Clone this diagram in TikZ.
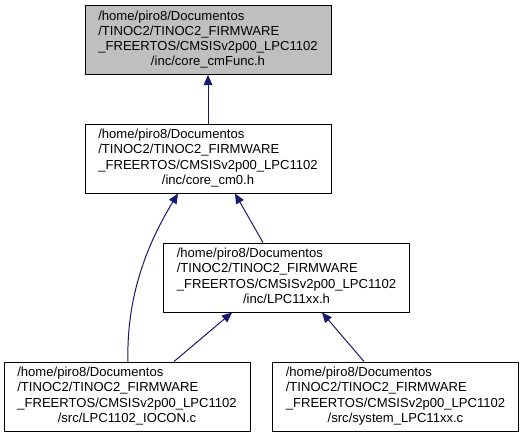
\documentclass[tikz,border=0pt]{standalone}
\usepackage{fontspec}
\setmainfont{Liberation Sans}
\usetikzlibrary{arrows.meta,calc}
\newcommand{\fpath}[2]{\begin{tabular}{@{}l@{}}/home/piro8/Documentos\\/TINOC2/TINOC2\_FIRMWARE\\\_FREERTOS/CMSISv2p00\_LPC1102\\\multicolumn{1}{@{}c@{}}{#1/#2}\end{tabular}}
\begin{document}
\begin{tikzpicture}[x=0.75pt,y=-0.75pt,
  filebox/.style={draw=black,line width=0.75pt,fill=white,inner sep=0pt,
    minimum width=184.5pt,minimum height=51.75pt,
    font=\fontsize{9.8}{11.3}\selectfont},
  edge/.style={draw={rgb,255:red,25;green,25;blue,112},line width=0.75pt,
    -{Triangle[length=7.5pt,width=6.5pt]}}]
\useasboundingbox[fill=white] (0,0) rectangle (525,437);
\node[filebox,fill={rgb,255:red,191;green,191;blue,191}] (top) at (208,40) {\fpath{/inc}{core\_cmFunc.h}};
\node[filebox] (mid) at (208,158.5) {\fpath{/inc}{core\_cm0.h}};
\node[filebox] (lpc) at (286.5,277.5) {\fpath{/inc}{LPC11xx.h}};
\node[filebox] (iocon) at (127,396.5) {\fpath{/src}{LPC1102\_IOCON.c}};
\node[filebox] (sys) at (395.5,396.5) {\fpath{/src}{system\_LPC11xx.c}};
\draw[edge] (mid.north) -- (top.south);
\draw[edge] ($(lpc.north)+(-23.5,0)$) -- ($(mid.south)+(27,0)$);
\draw[edge] ($(iocon.north)+(47,0)$) -- ($(lpc.south)+(-54.5,0)$);
\draw[edge] ($(sys.north)+(-31.5,0)$) -- ($(lpc.south)+(35.5,0)$);
\draw[edge] ($(iocon.north)+(1,0)$) .. controls (126,290) and (152,236) .. ($(mid.south)+(-30,0)$);
\end{tikzpicture}
\end{document}
